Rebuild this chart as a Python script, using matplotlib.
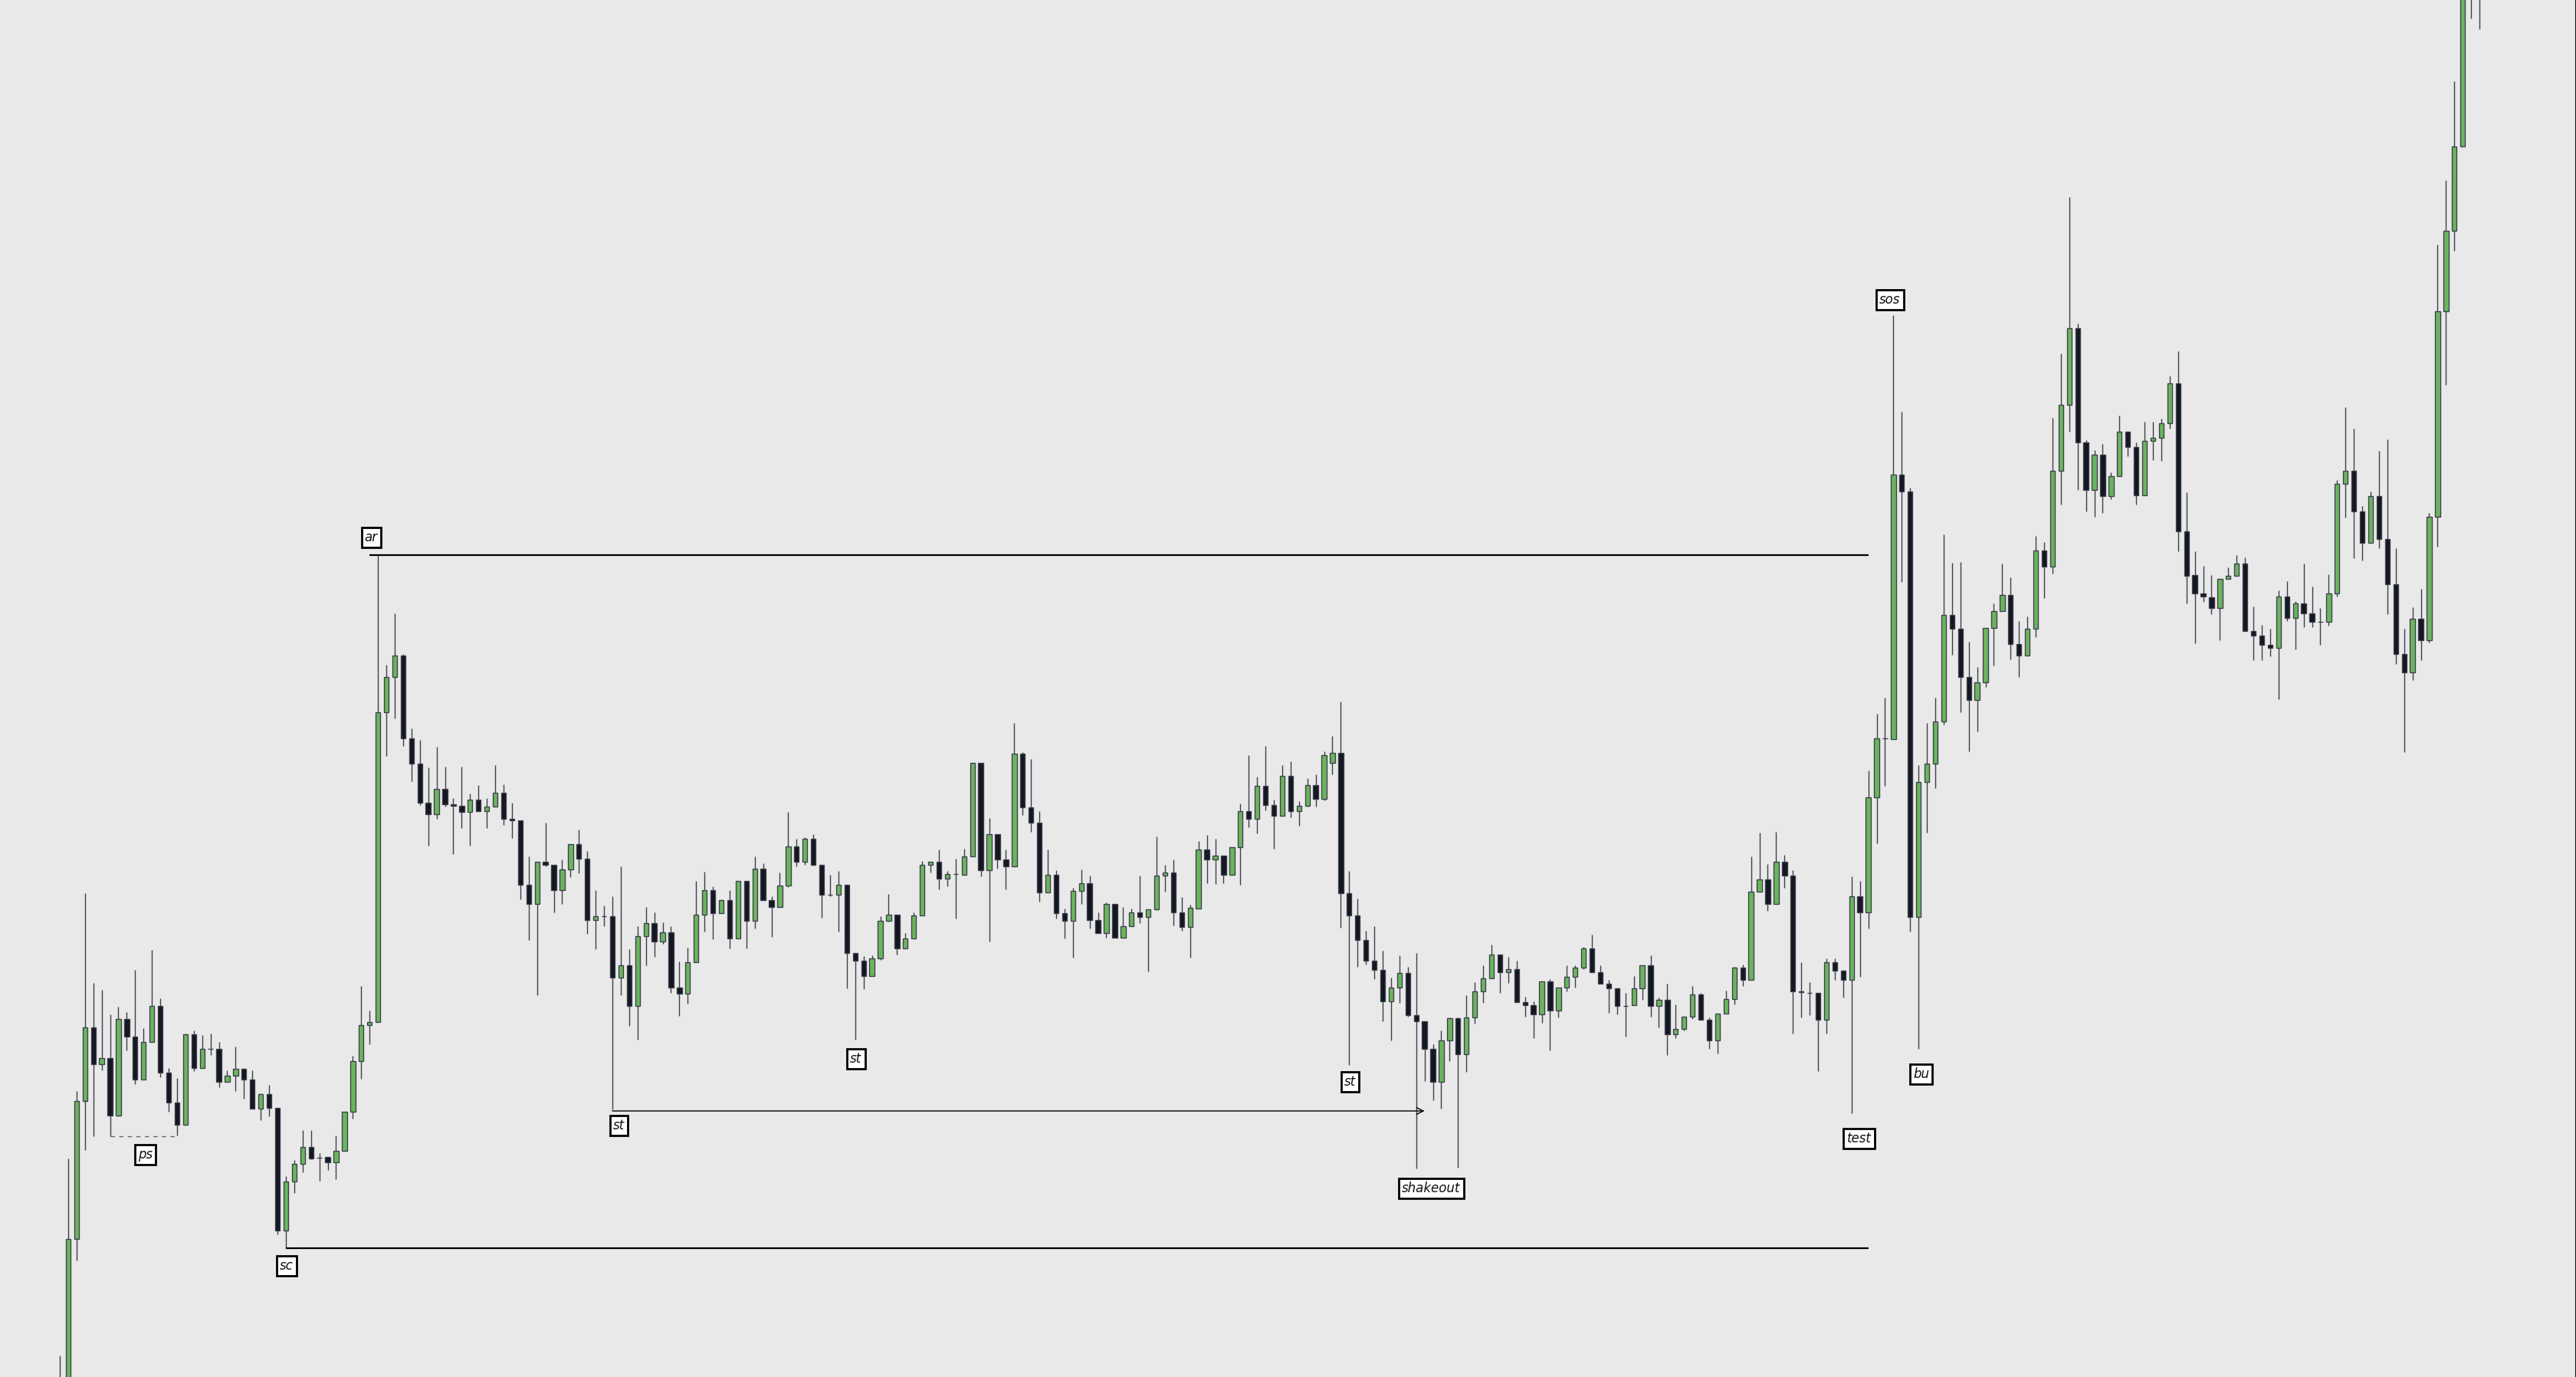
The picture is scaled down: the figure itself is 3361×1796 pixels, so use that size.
import matplotlib
matplotlib.use("Agg")
import matplotlib.pyplot as plt
import numpy as np

# OHLC (arbitrary price units)
opens = [-60, -20, 184, 364, 460, 412, 420, 345, 471, 448,
         392, 441, 488, 401, 362, 333, 451, 407, 432, 432,
         389, 397, 406, 392, 354, 373, 355, 195, 259, 282,
         304, 290, 291, 284, 299, 350, 416, 463, 467, 871,
         917, 945, 837, 804, 753, 738, 771, 751, 749, 741,
         757, 742, 748, 766, 732, 730, 646, 621, 676, 672,
         639, 666, 699, 680, 600, 605, 605, 525, 541, 488,
         579, 596, 572, 584, 512, 504, 545, 607, 639, 609,
         626, 576, 651, 599, 667, 626, 617, 645, 696, 676,
         706, 672, 633, 633, 646, 557, 547, 527, 550, 599,
         607, 563, 576, 606, 672, 676, 654, 660, 659, 683,
         805, 665, 712, 679, 670, 817, 747, 727, 636, 659,
         609, 599, 638, 648, 600, 583, 621, 577, 592, 610,
         604, 614, 658, 662, 610, 591, 615, 692, 679, 684,
         659, 695, 742, 732, 775, 750, 736, 788, 742, 749,
         776, 758, 805, 818, 635, 606, 574, 547, 535, 494,
         512, 531, 476, 468, 432, 389, 443, 472, 425, 473,
         507, 524, 555, 532, 536, 493, 489, 477, 520, 482,
         512, 526, 538, 563, 532, 517, 511, 488, 489, 511,
         541, 488, 496, 451, 458, 474, 503, 470, 443, 478,
         497, 538, 522, 637, 653, 621, 676, 658, 507, 505,
         505, 470, 545, 534, 522, 631, 610, 760, 837, 836,
         1181, 1159, 604, 780, 804, 859, 998, 980, 917, 887,
         910, 981, 1003, 1024, 960, 945, 980, 1082, 1061, 1186,
         1272, 1372, 1223, 1161, 1207, 1153, 1179, 1237, 1217, 1154,
         1225, 1229, 1248, 1300, 1107, 1050, 1026, 1021, 1007, 1045,
         1049, 1065, 977, 971, 959, 955, 1022, 994, 1013, 1000,
         989, 989, 1026, 1169, 1186, 1133, 1092, 1153, 1097, 1038,
         947, 923, 993, 965, 1126, 1394, 1499, 1609, 1850, 1850]
highs = [32, 289, 377, 635, 518, 509, 477, 487, 480, 535,
         459, 561, 498, 407, 394, 452, 456, 450, 452, 441,
         404, 435, 406, 404, 374, 385, 355, 266, 287, 326,
         326, 296, 291, 319, 350, 423, 514, 482, 1076, 933,
         1000, 947, 850, 835, 799, 826, 800, 759, 800, 765,
         776, 759, 802, 777, 753, 730, 683, 676, 727, 672,
         679, 699, 718, 690, 639, 619, 631, 670, 562, 592,
         617, 610, 597, 592, 546, 564, 651, 663, 644, 627,
         639, 651, 651, 683, 674, 631, 662, 741, 706, 708,
         712, 672, 659, 664, 646, 557, 553, 554, 605, 634,
         607, 583, 610, 677, 676, 692, 664, 680, 693, 805,
         805, 733, 712, 692, 857, 819, 810, 742, 692, 665,
         615, 642, 666, 658, 610, 623, 621, 617, 615, 658,
         614, 709, 672, 679, 630, 620, 703, 711, 706, 684,
         695, 752, 815, 787, 827, 757, 802, 807, 755, 785,
         790, 820, 840, 885, 664, 628, 586, 592, 560, 525,
         554, 539, 557, 468, 438, 456, 473, 473, 502, 519,
         541, 568, 555, 552, 547, 500, 494, 520, 523, 512,
         541, 541, 565, 581, 541, 522, 511, 505, 527, 541,
         554, 499, 517, 490, 474, 514, 505, 473, 478, 508,
         539, 542, 683, 714, 673, 715, 685, 665, 545, 519,
         505, 550, 550, 535, 657, 651, 795, 869, 890, 1389,
         1263, 1164, 802, 857, 890, 1103, 1066, 1067, 963, 930,
         981, 1013, 1065, 1047, 990, 996, 1101, 1093, 1255, 1339,
         1543, 1378, 1226, 1213, 1221, 1184, 1258, 1237, 1223, 1250,
         1250, 1254, 1310, 1342, 1158, 1081, 1062, 1050, 1045, 1060,
         1076, 1073, 1009, 985, 980, 1030, 1042, 1016, 1065, 1035,
         1007, 1051, 1174, 1269, 1241, 1140, 1159, 1212, 1227, 1085,
         980, 1008, 1032, 1131, 1481, 1565, 1694, 2000, 2050, 2050]
lows = [-80, -30, 156, 300, 318, 404, 318, 344, 430, 386,
        392, 441, 395, 350, 319, 333, 403, 407, 424, 382,
        389, 377, 367, 354, 339, 344, 190, 172, 244, 271,
        288, 260, 274, 262, 299, 341, 393, 438, 467, 814,
        863, 827, 781, 750, 697, 732, 748, 686, 720, 697,
        742, 720, 748, 724, 707, 627, 574, 502, 670, 610,
        621, 656, 661, 582, 562, 592, 353, 502, 462, 444,
        541, 552, 569, 505, 475, 491, 545, 585, 575, 609,
        563, 576, 563, 589, 626, 578, 617, 643, 670, 672,
        671, 603, 631, 585, 511, 444, 510, 527, 548, 598,
        555, 563, 576, 606, 662, 640, 644, 602, 659, 683,
        657, 572, 667, 640, 670, 737, 715, 624, 636, 602,
        576, 551, 621, 589, 583, 577, 577, 577, 592, 596,
        533, 613, 637, 593, 586, 551, 615, 648, 647, 648,
        659, 646, 721, 713, 743, 693, 736, 734, 723, 748,
        748, 756, 790, 590, 411, 539, 542, 523, 468, 443,
        492, 474, 276, 390, 365, 354, 416, 277, 402, 465,
        492, 524, 505, 518, 493, 474, 446, 466, 430, 473,
        507, 512, 536, 532, 517, 479, 477, 448, 489, 496,
        474, 460, 424, 446, 456, 471, 470, 432, 426, 478,
        490, 514, 522, 637, 612, 621, 642, 452, 473, 476,
        403, 452, 522, 499, 348, 526, 589, 700, 775, 836,
        1041, 585, 432, 714, 772, 855, 946, 871, 820, 846,
        904, 932, 1003, 940, 917, 945, 969, 1020, 1052, 1142,
        1237, 1161, 1133, 1126, 1131, 1149, 1179, 1205, 1142, 1154,
        1200, 1199, 1241, 1081, 1013, 961, 1015, 999, 965, 1045,
        1049, 977, 939, 939, 944, 888, 990, 953, 982, 982,
        959, 984, 1022, 1125, 1072, 1069, 1092, 1085, 999, 934,
        819, 913, 939, 962, 1087, 1298, 1473, 1609, 1776, 1762]
closes = [-5, 184, 364, 460, 412, 420, 345, 471, 448, 392,
          441, 488, 401, 362, 333, 451, 407, 432, 432, 389,
          397, 406, 392, 354, 373, 355, 195, 259, 282, 304,
          289, 290, 284, 299, 350, 416, 463, 467, 871, 917,
          945, 837, 804, 753, 738, 771, 751, 749, 741, 757,
          742, 748, 766, 732, 730, 646, 621, 676, 672, 639,
          666, 699, 680, 600, 605, 605, 525, 541, 488, 579,
          596, 572, 584, 512, 504, 545, 607, 639, 609, 626,
          576, 651, 599, 667, 626, 617, 645, 696, 676, 706,
          672, 633, 633, 646, 557, 547, 527, 550, 599, 607,
          563, 576, 606, 672, 676, 654, 660, 660, 683, 805,
          665, 712, 679, 670, 817, 747, 727, 636, 659, 609,
          599, 638, 648, 600, 583, 621, 577, 592, 610, 604,
          614, 658, 662, 610, 591, 616, 692, 679, 684, 659,
          695, 742, 732, 775, 750, 736, 788, 742, 749, 776,
          758, 815, 818, 635, 606, 574, 547, 535, 494, 512,
          531, 476, 468, 432, 389, 443, 472, 425, 473, 507,
          524, 555, 532, 536, 493, 489, 477, 520, 482, 512,
          526, 538, 563, 532, 517, 511, 488, 488, 511, 541,
          488, 496, 451, 458, 474, 503, 470, 443, 478, 497,
          538, 522, 637, 653, 621, 676, 658, 507, 506, 505,
          470, 545, 534, 522, 631, 610, 760, 837, 837, 1181,
          1159, 604, 780, 804, 859, 998, 980, 917, 887, 910,
          981, 1003, 1024, 960, 945, 980, 1082, 1061, 1186, 1272,
          1372, 1223, 1161, 1207, 1153, 1179, 1237, 1217, 1154, 1225,
          1229, 1248, 1300, 1107, 1049, 1026, 1022, 1007, 1045, 1049,
          1065, 977, 971, 959, 955, 1022, 994, 1013, 1000, 989,
          989, 1026, 1169, 1186, 1133, 1092, 1153, 1097, 1038, 947,
          923, 993, 965, 1126, 1394, 1499, 1609, 1950, 2000, 2000]

BG = "#e9e9e9"
UP = "#6ab45e"
DOWN = "#121722"
EDGE = "#3d3f4b"

o = np.array(opens, float)
h = np.array(highs, float)
l = np.array(lows, float)
c = np.array(closes, float)
x = np.arange(len(o))

fig = plt.figure(figsize=(33.62, 17.96), dpi=100, facecolor=BG)
ax = fig.add_axes([0, 0, 1, 1])
ax.set_facecolor(BG)

# wicks then bodies
ax.vlines(x, l, h, color=EDGE, lw=1.0, zorder=2)
cols = np.where(c > o, UP, DOWN)
ax.bar(x, np.abs(c - o), bottom=np.minimum(o, c), width=0.58,
       color=cols, edgecolor=EDGE, linewidth=0.95, zorder=3)

# range lines
ax.hlines(h[38], 37, 216, color="black", lw=1.6, zorder=4)
ax.hlines(l[27], 27, 216, color="black", lw=1.6, zorder=4)
ax.hlines(l[6], 6, 14, color="#666666", lw=1.0, linestyles=(0, (4, 4)), zorder=4)
ax.annotate("", xy=(163, l[66] - 2), xytext=(66, l[66] - 2),
            arrowprops=dict(arrowstyle="->", lw=1.0, color="black",
                            mutation_scale=16, shrinkA=0, shrinkB=0), zorder=4)

def tag(txt, xi, yv):
    ax.text(xi, yv, txt, ha="center", va="center", fontsize=12, style="italic",
            color="#111111", zorder=6,
            bbox=dict(boxstyle="square,pad=0.25", fc="white", ec="black", lw=2))

tag("ps", 10.2, 294)
tag("sc", 27.1, 149)
tag("ar", 37.2, 1099)
tag("st", 66.8, 332)
tag("st", 95.1, 419)
tag("st", 154.1, 389)
tag("shakeout", 163.8, 250)
tag("test", 214.9, 315)
tag("sos", 218.6, 1409)
tag("bu", 222.3, 399)

px = 10.924
ax.set_xlim(-78 / px, (3362 - 78) / px)
ax.set_ylim(1800 - 1796, 1800)
for s in ["top", "left", "bottom"]:
    ax.spines[s].set_visible(False)
ax.spines["right"].set_color("#1a1a1a")
ax.spines["right"].set_linewidth(3)
ax.set_xticks([])
ax.set_yticks([])

fig.savefig("out.png", dpi=100, facecolor=BG)
